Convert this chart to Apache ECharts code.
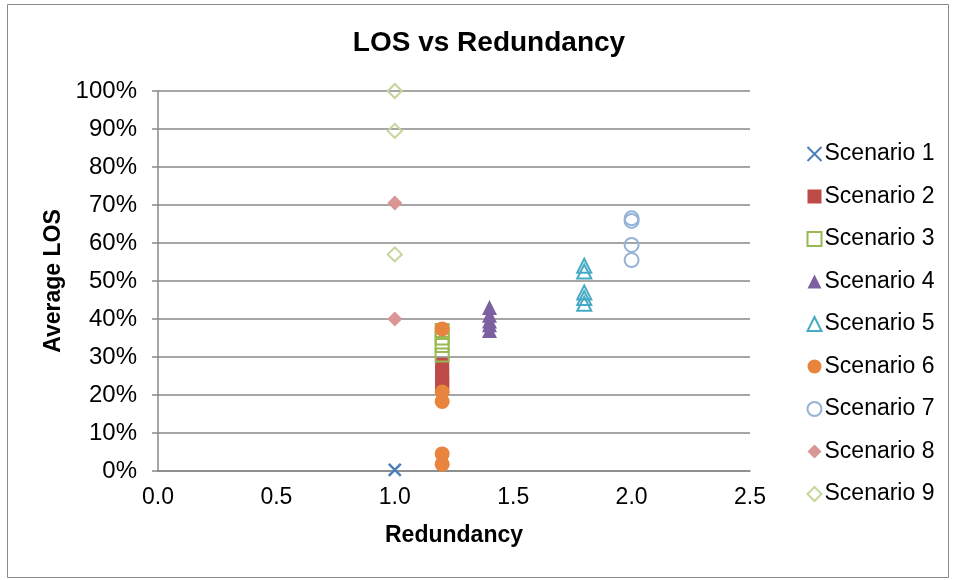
<!DOCTYPE html>
<html><head><meta charset="utf-8">
<script src="https://cdn.jsdelivr.net/npm/echarts@6/dist/echarts.min.js"></script>
<style>html,body{margin:0;padding:0;background:#fff}#c{width:956px;height:580px}</style>
</head><body><div id="c"></div>
<script>
const xTicks = [0.0, 0.5, 1.0, 1.5, 2.0, 2.5];
const yTicks = [0, 10, 20, 30, 40, 50, 60, 70, 80, 90, 100];
const seriesNames = ['Scenario 1','Scenario 2','Scenario 3','Scenario 4','Scenario 5','Scenario 6','Scenario 7','Scenario 8','Scenario 9'];
const s1x = [1.0], s1y = [0.3];
const s2x = [1.2,1.2,1.2,1.2,1.2], s2y = [28,26,24.5,23,22];
const s3x = [1.2,1.2,1.2,1.2], s3y = [37,35,33,30.5];
const s4x = [1.4,1.4,1.4,1.4,1.4], s4y = [43,41,39.5,38.5,37];
const s5x = [1.8,1.8,1.8,1.8,1.8], s5y = [54,52.5,47,45.5,44];
const s6x = [1.2,1.2,1.2,1.2,1.2], s6y = [37.4,20.8,18.3,4.5,1.8];
const s7x = [2.0,2.0,2.0,2.0], s7y = [66.5,65.8,59.5,55.5];
const s8x = [1.0,1.0], s8y = [70.5,40];
const s9x = [1.0,1.0,1.0], s9y = [100,89.5,57];

const colors = ['#4A7EBB','#BE4B48','#98B954','#7D60A0','#46AAC5','#E8843E','#95B3D7','#D99694','#C3D69B'];
const xs = [s1x,s2x,s3x,s4x,s5x,s6x,s7x,s8x,s9x];
const ys = [s1y,s2y,s3y,s4y,s5y,s6y,s7y,s8y,s9y];
const symbols = ['path://M0,0L10,10M10,0L0,10','rect','rect','triangle','triangle','circle','circle','diamond','diamond'];
const sizes = [12,14,13,15,14,15,14,15,14];
const filled = [false,true,false,true,false,true,false,true,false];
const FONT = 'Liberation Sans, Arial, sans-serif';

const series = seriesNames.map((n,i)=>({
  name:n, type:'scatter', symbol:symbols[i], symbolSize:sizes[i],
  data: xs[i].map((x,j)=>[x, ys[i][j]]),
  itemStyle: i===0 ? {color:'none', borderColor:colors[i], borderWidth:2.5, opacity:1}
           : filled[i] ? {color:colors[i], opacity:1}
           : {color:'none', borderColor:colors[i], borderWidth:2, opacity:1},
  emphasis:{disabled:true}
}));

const chart = echarts.init(document.getElementById('c'));
chart.setOption({
  animation:false,
  title:{text:'LOS vs Redundancy', left:484, top:24, textAlign:'center',
    textStyle:{fontFamily:FONT, fontSize:28, fontWeight:'bold', color:'#000'}},
  graphic:[{type:'rect', shape:{x:7.5,y:4.5,width:941,height:573}, style:{fill:'none', stroke:'#8a8a8a', lineWidth:1}, silent:true}],
  legend:{orient:'vertical', left:800, top:137, itemWidth:14, itemHeight:14, itemGap:18.5,
    data:seriesNames, textStyle:{fontFamily:FONT, fontSize:23, color:'#000', padding:[0,0,0,-2], lineHeight:24}},
  grid:{left:158, right:206, top:91, bottom:109},
  xAxis:{type:'value', min:0, max:2.5, interval:0.5,
    name:'Redundancy', nameLocation:'middle', nameGap:53,
    nameTextStyle:{fontFamily:FONT, fontSize:23, fontWeight:'bold', color:'#000'},
    axisLine:{show:true, lineStyle:{color:'#888', width:1.5}},
    axisTick:{show:false},
    splitLine:{show:false},
    axisLabel:{fontFamily:FONT, fontSize:23, color:'#000', margin:15, formatter:v=>v.toFixed(1)}},
  yAxis:{type:'value', min:0, max:100, interval:10,
    name:'Average LOS', nameLocation:'middle', nameGap:91,
    nameTextStyle:{fontFamily:FONT, fontSize:23, fontWeight:'bold', color:'#000'},
    axisLine:{show:true, lineStyle:{color:'#888', width:1.5}},
    axisTick:{show:true, inside:false, length:6, lineStyle:{color:'#888', width:1.5}},
    splitLine:{show:true, lineStyle:{color:'#888', width:1.5}},
    axisLabel:{fontFamily:FONT, fontSize:24, color:'#000', margin:21, formatter:v=>v+'%'}},
  series
});
</script></body></html>
